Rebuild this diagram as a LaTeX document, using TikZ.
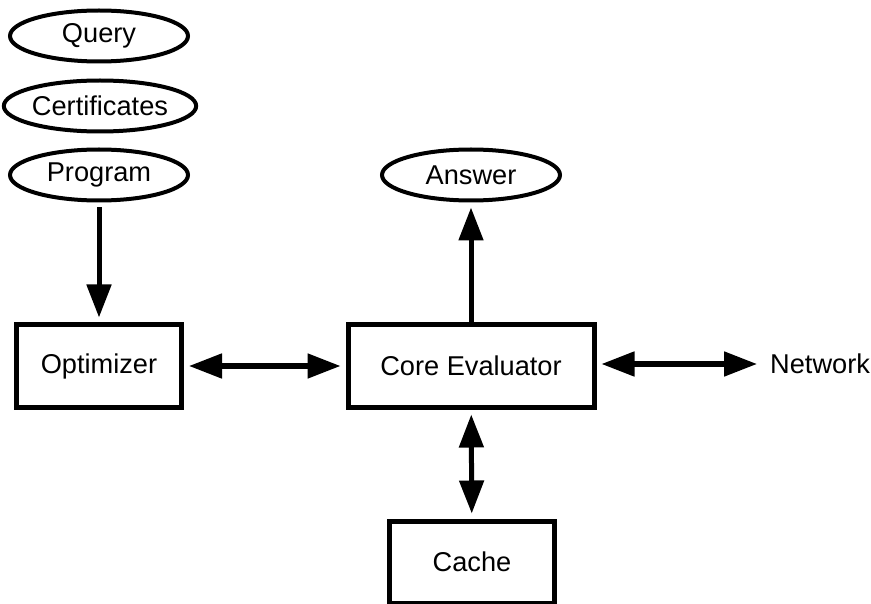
\documentclass[tikz,border=0pt]{standalone}
\usepackage{fontspec}
\setmainfont{Liberation Sans}
\usetikzlibrary{shapes.geometric,arrows.meta}

\tikzset{
    input/.style={draw, ellipse, line width=4pt, inner sep=0pt,
        minimum width=178pt, minimum height=51pt},
    module/.style={draw, rectangle, line width=5pt, inner sep=0pt,
        minimum width=165pt, minimum height=82pt},
    flow/.style={line width=5pt, -{Triangle[length=33pt,width=24pt]},
        shorten <=5pt, shorten >=5pt},
    link/.style={line width=5pt,
        {Triangle[length=33pt,width=24pt]}-{Triangle[length=33pt,width=24pt]},
        shorten <=5pt, shorten >=5pt}
}

\begin{document}
\begin{tikzpicture}[x=1pt, y=-1pt, font=\fontsize{27.2}{31}\selectfont]

    \useasboundingbox (0,0) rectangle (871,604);

    % inputs
    \node[input] (query) at (99, 36) {Query};
    \node[input, minimum width=184pt] (cert) at (100, 106) {Certificates};
    \node[input] (prog) at (99, 175) {Program};
    \node[input] (answer) at (471, 175) {Answer};

    % modules
    \node[module] (opt) at (99, 366) {Optimizer};
    \node[module, minimum width=246pt] (core) at (471, 366) {Core Evaluator};
    \node[module] (cache) at (472, 562) {Cache};
    \node[inner xsep=8pt, inner ysep=0pt, anchor=west] (net) at (762, 364) {Network};

    \draw[flow] (prog) -- (opt);
    \draw[flow, shorten <=0pt] (core) -- (answer);
    \draw[link] (opt) -- (core);
    \draw[link] (core.east |- net.west) -- (net.west);
    \draw[link] (core) -- (cache);
\end{tikzpicture}
\end{document}
